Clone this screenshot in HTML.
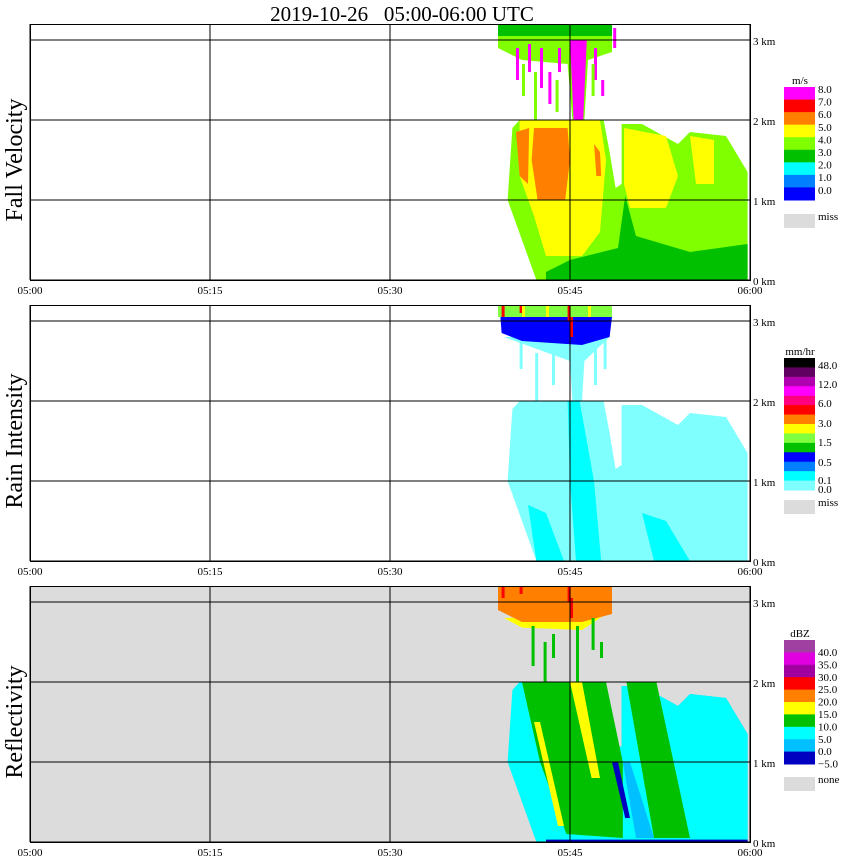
<!DOCTYPE html>
<html><head><meta charset="utf-8">
<style>
body{margin:0;background:#fff;}
svg{display:block;font-family:"Liberation Serif",serif;}
</style></head>
<body>
<svg id="chart" width="850" height="868" viewBox="0 0 850 868" xmlns="http://www.w3.org/2000/svg">
<text x="402" y="21" font-size="21" text-anchor="middle" xml:space="preserve">2019-10-26&#160;&#160;&#160;05:00-06:00 UTC</text>
</svg>
<script>
// ---- axis data ----
const timeTicks = [0, 15, 30, 45, 60];
const timeLabels = ["05:00", "05:15", "05:30", "05:45", "06:00"];
const heightTicks = [0, 1, 2, 3];
const heightLabels = ["0 km", "1 km", "2 km", "3 km"];
const panelTitles = ["Fall Velocity", "Rain Intensity", "Reflectivity"];
const panelBases = [280, 561, 842];

// ---- legends ----
const velColors = ["#ff00ff","#ff0000","#ff8000","#ffff00","#80ff00","#00c000","#00ffff","#0080ff","#0000ff"];
const velLabels = ["8.0","7.0","6.0","5.0","4.0","3.0","2.0","1.0","0.0"];
const rainColors = ["#000000","#600060","#b000b0","#ff00ff","#ff0080","#ff0000","#ff8000","#ffff00","#80ff40","#00c000","#0000ff","#0080ff","#00ffff","#80ffff"];
const rainLabels = ["48.0","12.0","6.0","3.0","1.5","0.5","0.1","0.0"];
const dbzColors = ["#a040a0","#e000e0","#a000a0","#ff0000","#ff8000","#ffff00","#00c000","#00ffff","#00c0ff","#0000c0"];
const dbzLabels = ["40.0","35.0","30.0","25.0","20.0","15.0","10.0","5.0","0.0","\u22125.0"];

// ---- echo regions (minutes after 05:00, km) ----
const envelope = [[42.2,0],[41,0.5],[39.8,1.0],[40.2,1.9],[40.8,2.0],[47.8,2.0],[48.3,1.6],[48.8,1.15],[49.3,1.2],[49.3,1.95],[51,1.95],[54,1.7],[55,1.85],[58,1.8],[59.8,1.35],[59.8,0]];
const upperCloud = [[39,3.2],[48.5,3.2],[48.5,2.85],[46.5,2.75],[46.2,2.0],[45.2,2.0],[44.8,2.7],[41,2.75],[39,2.9]];
const velYellow = [[40.8,2.0],[47.5,2.0],[48,1.5],[47.5,0.6],[46,0.3],[43,0.3],[42,0.8],[40.8,1.3]];
const velYellow2 = [[49.5,1.9],[53,1.8],[54,1.3],[53,0.9],[50,0.9],[49.5,1.2]];
const velYellow3 = [[55,1.8],[57,1.75],[57,1.2],[55.5,1.2]];
const velOrange = [[42,1.9],[44.8,1.9],[45,1.5],[44.6,1.0],[42.3,1.0],[41.8,1.5]];
const velOrangeL = [[40.5,1.85],[41.6,1.9],[41.5,1.2],[40.8,1.3]];
const velOrangeR = [[47,1.7],[47.5,1.6],[47.6,1.3],[47.2,1.3]];
const velGreen = [[43,0],[59.8,0],[59.8,0.45],[55,0.35],[50.5,0.55],[49.6,1.05],[49,0.4],[45,0.25],[43,0.1]];
const velTopGreen = [[39,3.2],[48.5,3.2],[48.5,3.05],[39,3.05]];
const velMagenta = [[45.3,2.0],[46.1,2.0],[46.4,3.0],[45,3.0]];
const rainCyan = [[44.8,2.0],[45.8,2.0],[47,1.0],[47.6,0],[45.5,0],[45,1.0]];
const rainCyanL = [[41.5,0.7],[43,0.6],[44.5,0],[42.2,0]];
const rainCyanR = [[51,0.6],[53,0.5],[55,0],[52,0]];
const rainColumn = [[39.5,2.8],[48.3,2.8],[46.2,2.5],[46,2.0],[45.2,2.0],[45,2.5]];
const rainBlue = [[39.2,3.05],[48.5,3.05],[48.3,2.8],[46,2.7],[41,2.75],[39.3,2.85]];
const rainTop = [[39,3.2],[48.5,3.2],[48.5,3.05],[39,3.05]];
const dbzEdge = [[42.6,0],[41.3,0.5],[40.1,1.0],[40.5,1.9],[41,2.0],[47.8,2.0],[48.3,1.6],[48.8,1.15],[49.3,1.2],[49.3,1.95],[51,1.95],[54,1.7],[55,1.85],[58,1.8],[59.8,1.35],[59.8,0]];
const dbzGreen1 = [[41,2.0],[48,2.0],[49.4,1.0],[49.4,0.05],[44.7,0.1],[42.5,1.0]];
const dbzYellowA = [[45,2.0],[46,2.0],[47.5,0.8],[46.8,0.8]];
const dbzYellowB = [[42,1.5],[42.5,1.5],[44.5,0.2],[44,0.2]];
const dbzGreen2 = [[49.7,2.0],[52.2,2.0],[55,0.05],[52,0.05]];
const dbzLightBlue = [[49.4,1.0],[50,1.0],[52,0.05],[50.5,0.05]];
const dbzBlue = [[48.5,1.0],[49,1.0],[50,0.3],[49.6,0.3]];
const dbzBottom = [[43,0],[59.8,0],[59.8,0.03],[43,0.03]];
const dbzOrange = [[39,3.2],[48.5,3.2],[48.5,2.85],[46,2.75],[41,2.75],[39,2.9]];
const dbzYellowTop = [[39.5,2.8],[48,2.85],[46,2.65],[41,2.68]];
// streaks: [time, h0, h1]
const velMagStreaks = [[40.5,2.5,2.9],[41.5,2.6,2.95],[42.5,2.4,2.9],[43.2,2.2,2.6],[44,2.6,2.9],[47,2.5,2.9],[47.6,2.3,2.5],[48.6,2.9,3.15]];
const velGreenStreaks = [[41,2.3,2.7],[42,2.0,2.6],[43.8,2.1,2.5],[46.8,2.3,2.7]];
const rainStreaks = [[40.8,2.4,2.8],[42.1,2.0,2.6],[43.5,2.2,2.6],[47,2.2,2.7],[47.8,2.4,2.8]];
const dbzGreenStreaks = [[41.8,2.2,2.7],[42.8,2.0,2.5],[43.5,2.3,2.6],[46.8,2.4,2.8],[47.5,2.3,2.5],[45.5,2.0,2.7]];
const dbzRedSpots = [[39.3,3.05,3.2],[40.8,3.1,3.2],[44.8,3.0,3.2],[45,2.8,3.05]];

const NS="http://www.w3.org/2000/svg";
const svg=document.getElementById('chart');
const xOf=t=>30+t*12;
function yOf(p,h){return panelBases[p]-h*80;}
function mk(tag,attrs,parent){const e=document.createElementNS(NS,tag);for(const k in attrs)e.setAttribute(k,attrs[k]);(parent||svg).appendChild(e);return e;}
function poly(p,pts,color,name){
  const e=mk('polygon',{points:pts.map(q=>xOf(q[0])+','+yOf(p,q[1])).join(' '),fill:color});
  
  
}
function streaks(p,list,color,name){
  list.forEach(s=>{
    const e=mk('rect',{x:xOf(s[0]),y:yOf(p,s[2]),width:3,height:(s[2]-s[1])*80,fill:color});
    
    
  });
}

for(let p=0;p<3;p++){
  const base=panelBases[p], top=base-256;
  if(p===2){const bg=mk('rect',{x:30,y:top,width:720,height:256,fill:'#dcdcdc'});
    
    }
  if(p===0){
    poly(0,envelope,'#80ff00','echo-base');
    poly(0,velYellow,'#ffff00','velocity-yellow');
    poly(0,velYellow2,'#ffff00','velocity-yellow-2');
    poly(0,velYellow3,'#ffff00','velocity-yellow-3');
    poly(0,velOrange,'#ff8000','velocity-orange');
    poly(0,velOrangeL,'#ff8000','velocity-orange-left');
    poly(0,velOrangeR,'#ff8000','velocity-orange-right');
    poly(0,velGreen,'#00c000','velocity-green');
    poly(0,upperCloud,'#80ff00','upper-cloud');
    poly(0,velTopGreen,'#00c000','upper-green');
    poly(0,velMagenta,'#ff00ff','velocity-magenta-column');
    streaks(0,velMagStreaks,'#ff00ff','magenta-streak');
    streaks(0,velGreenStreaks,'#80ff00','green-streak');
  } else if(p===1){
    poly(1,envelope,'#80ffff','rain-base');
    poly(1,rainCyan,'#00ffff','rain-cyan-band');
    poly(1,rainCyanL,'#00ffff','rain-cyan-left');
    poly(1,rainCyanR,'#00ffff','rain-cyan-right');
    poly(1,rainColumn,'#80ffff','rain-upper-column');
    streaks(1,rainStreaks,'#80ffff','rain-streak');
    poly(1,rainBlue,'#0000ff','rain-blue-band');
    poly(1,rainTop,'#80ff40','rain-top');
    streaks(1,dbzRedSpots,'#ff0000','rain-red-spot');
    streaks(1,[[41,3.05,3.2],[43,3.05,3.2],[46.5,3.05,3.2]],'#ffff00','rain-yellow-spot');
  } else {
    poly(2,dbzEdge,'#00c0ff','dbz-edge');
    poly(2,envelope,'#00ffff','dbz-base');
    poly(2,dbzGreen1,'#00c000','dbz-green-1');
    poly(2,dbzYellowA,'#ffff00','dbz-yellow-a');
    poly(2,dbzYellowB,'#ffff00','dbz-yellow-b');
    poly(2,dbzLightBlue,'#00c0ff','dbz-light-blue');
    poly(2,dbzGreen2,'#00c000','dbz-green-2');
    poly(2,dbzBlue,'#0000c0','dbz-blue');
    poly(2,dbzBottom,'#0000c0','dbz-bottom');
    poly(2,dbzYellowTop,'#ffff00','dbz-yellow-top');
    poly(2,dbzOrange,'#ff8000','dbz-orange');
    streaks(2,dbzGreenStreaks,'#00c000','dbz-green-streak');
    streaks(2,dbzRedSpots,'#ff0000','dbz-red-spot');
  }
  // grid
  timeTicks.forEach(t=>{const l=mk('line',{x1:xOf(t),x2:xOf(t),y1:top,y2:base,stroke:'#000','stroke-width':1});
    
    });
  heightTicks.forEach(h=>{const l=mk('line',{x1:30,x2:750,y1:yOf(p,h),y2:yOf(p,h),stroke:'#000','stroke-width':1});
    
    
    const tx=mk('text',{x:753,y:yOf(p,h)+5,'font-size':11});tx.textContent=heightLabels[h];
    
    });
  const fr=mk('rect',{x:30.5,y:top+0.5,width:720,height:256,fill:'none',stroke:'#000'});
  
  
  timeTicks.forEach((t,i)=>{const tx=mk('text',{x:xOf(t),y:base+14,'font-size':11,'text-anchor':'middle'});tx.textContent=timeLabels[i];
    
    });
  const yt=mk('text',{x:0,y:0,'font-size':24,'text-anchor':'middle',transform:`translate(22,${base-120}) rotate(-90)`});
  yt.textContent=panelTitles[p];
  
  
}

function legend(colors,labels,top,bottom,unit,missText,missY,labelYs){
  const h=(bottom-top)/colors.length;
  const u=mk('text',{x:800,y:top-3,'font-size':11,'text-anchor':'middle'});u.textContent=unit;
  
  
  colors.forEach((c,i)=>{const r=mk('rect',{x:784,y:top+i*h,width:31,height:h+0.5,fill:c});
    
    });
  labels.forEach((l,i)=>{const t=mk('text',{x:818,y:labelYs[i],'font-size':11});t.textContent=l;
    
    });
  const m=mk('rect',{x:784,y:missY,width:31,height:14,fill:'#dcdcdc'});
  
  
  const mt=mk('text',{x:818,y:missY+6,'font-size':11});mt.textContent=missText;
  
  
}
legend(velColors,velLabels,87,200,'m/s','miss',214,velLabels.map((_,i)=>93+i*12.6));
legend(rainColors,rainLabels,358,490,'mm/hr','miss',500,[369,388,407,427,446,466,484,493]);
legend(dbzColors,dbzLabels,640,764,'dBZ','none',777,dbzLabels.map((_,i)=>656+i*12.4));
</script>
</body></html>
